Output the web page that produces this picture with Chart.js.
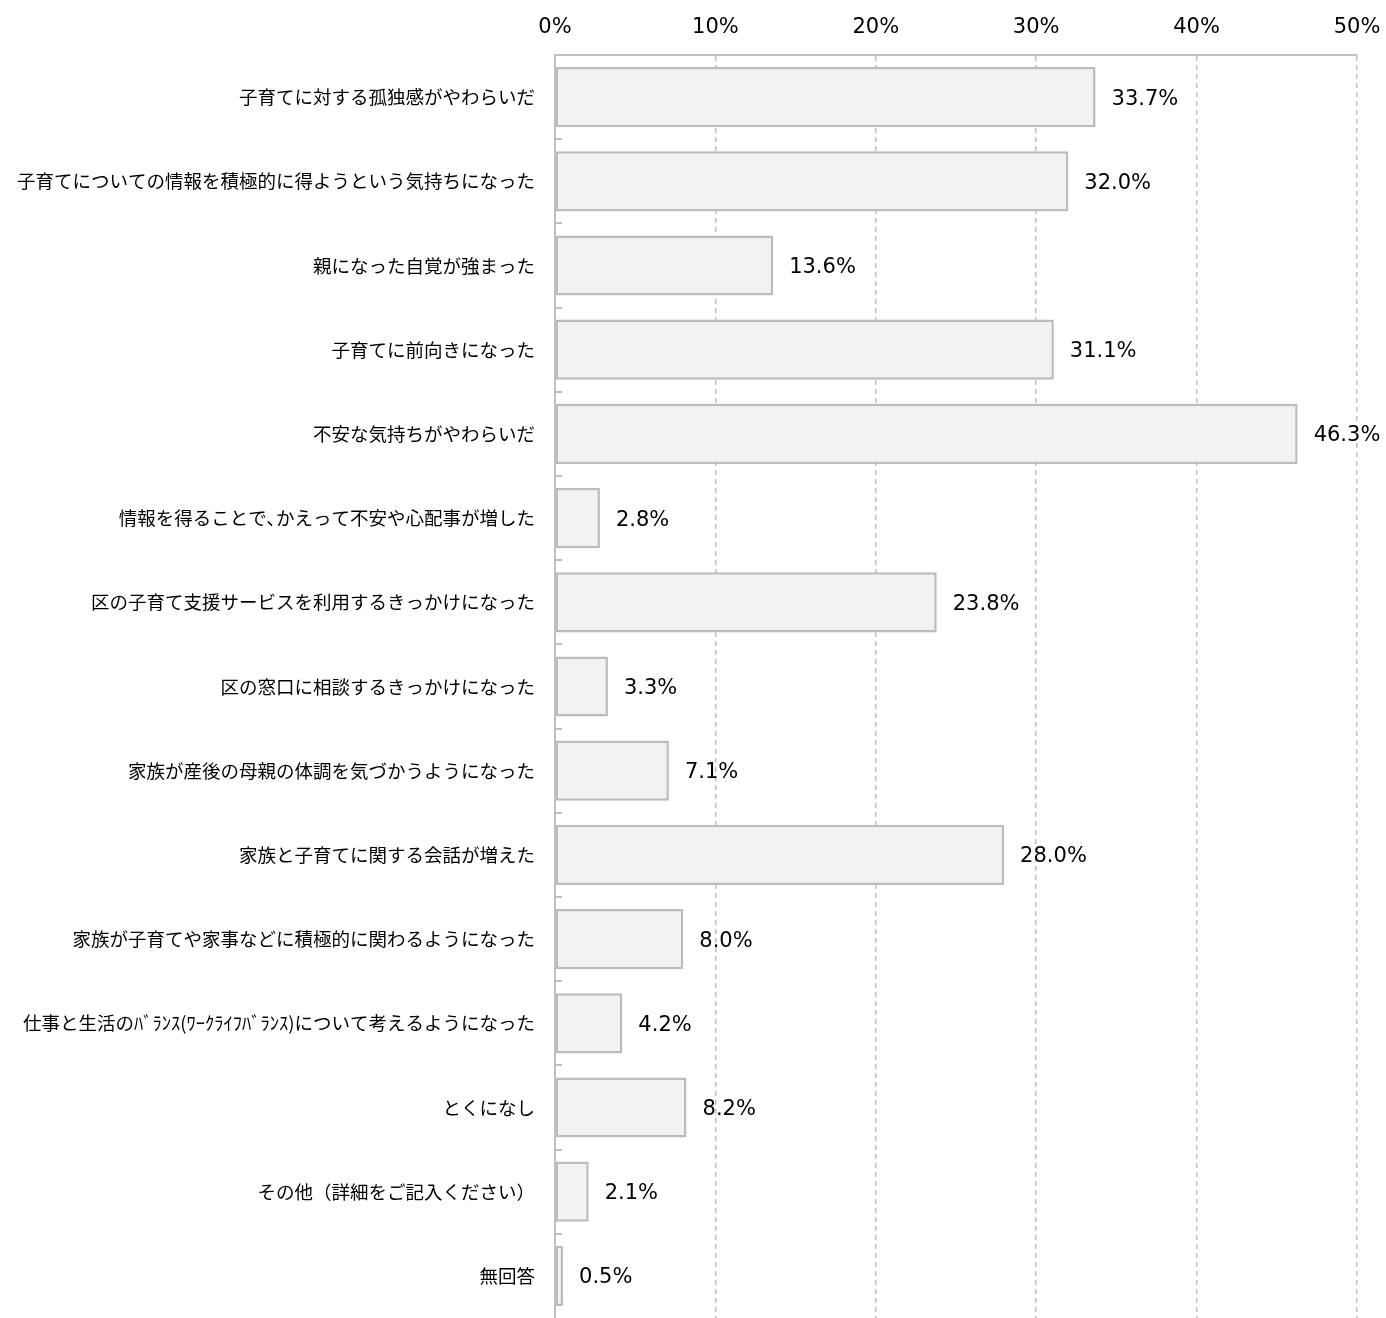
<!DOCTYPE html>
<html>
<head>
<meta charset="utf-8">
<script src="https://cdn.jsdelivr.net/npm/chart.js@4/dist/chart.umd.min.js"></script>
<style>
  body { margin: 0; background: #fff; }
  canvas { display: block; }
</style>
</head>
<body>
<canvas id="chart" width="1386" height="1318"></canvas>
<script>
// categories (top to bottom)
const categories = [
    '子育てに対する孤独感がやわらいだ',
    '子育てについての情報を積極的に得ようという気持ちになった',
    '親になった自覚が強まった',
    '子育てに前向きになった',
    '不安な気持ちがやわらいだ',
    '情報を得ることで､かえって不安や心配事が増した',
    '区の子育て支援サービスを利用するきっかけになった',
    '区の窓口に相談するきっかけになった',
    '家族が産後の母親の体調を気づかうようになった',
    '家族と子育てに関する会話が増えた',
    '家族が子育てや家事などに積極的に関わるようになった',
    '仕事と生活のﾊﾞﾗﾝｽ(ﾜｰｸﾗｲﾌﾊﾞﾗﾝｽ)について考えるようになった',
    'とくになし',
    'その他（詳細をご記入ください）',
    '無回答'
];
const values = [33.7, 32.0, 13.6, 31.1, 46.3, 2.8, 23.8, 3.3, 7.1, 28.0, 8.0, 4.2, 8.2, 2.1, 0.5];
const axisMax = 50;
const axisStep = 10;

// value labels to the right of each bar
const valueLabels = {
    id: 'valueLabels',
    afterDatasetsDraw(chart) {
        const ctx = chart.ctx;
        const meta = chart.getDatasetMeta(0);
        ctx.save();
        ctx.font = '21px "DejaVu Sans"';
        ctx.fillStyle = '#000';
        ctx.textAlign = 'left';
        ctx.textBaseline = 'middle';
        meta.data.forEach((bar, i) => {
            ctx.fillText(values[i].toFixed(1) + '%', bar.x + 16, bar.y + 2);
        });
        ctx.restore();
    }
};

// short tick marks between categories on the left axis
const catTicks = {
    id: 'catTicks',
    afterDraw(chart) {
        const ctx = chart.ctx;
        const y = chart.scales.y;
        const left = chart.chartArea.left;
        ctx.save();
        ctx.strokeStyle = '#c0c0c0';
        ctx.lineWidth = 2;
        for (let i = 1; i < categories.length; i++) {
            const p = Math.round(y.getPixelForValue(i - 0.5));
            ctx.beginPath();
            ctx.moveTo(left, p);
            ctx.lineTo(left + 7, p);
            ctx.stroke();
        }
        ctx.restore();
    }
};

new Chart(document.getElementById('chart'), {
    type: 'bar',
    data: {
        labels: categories,
        datasets: [{
            data: values,
            backgroundColor: '#f2f2f2',
            borderColor: '#bcbcbc',
            borderWidth: 2.5,
            borderSkipped: false,
            categoryPercentage: 1,
            barPercentage: 0.715
        }]
    },
    options: {
        indexAxis: 'y',
        responsive: false,
        animation: false,
        layout: { padding: { left: 0, right: 29, top: 0, bottom: 0 } },
        plugins: {
            legend: { display: false },
            tooltip: { enabled: false }
        },
        scales: {
            x: {
                position: 'top',
                min: 0,
                max: axisMax,
                afterFit(scale) {
                    scale.height = 55;
                    scale.paddingLeft = 0;
                    scale.paddingRight = 0;
                },
                ticks: {
                    stepSize: axisStep,
                    padding: 15,
                    color: '#000',
                    font: { family: '"DejaVu Sans"', size: 21 },
                    callback: v => v + '%'
                },
                grid: {
                    color: '#c0c0c0',
                    lineWidth: 1.5,
                    drawTicks: false
                },
                border: {
                    color: '#c0c0c0',
                    width: 2,
                    dash: [5, 4]
                }
            },
            y: {
                afterFit(scale) {
                    scale.width = 555;
                    scale.paddingTop = 0;
                    scale.paddingBottom = 0;
                },
                ticks: {
                    padding: 20,
                    color: '#000',
                    font: { family: '"Noto Sans CJK JP"', size: 18.5 }
                },
                grid: { display: false, drawTicks: false },
                border: { color: '#c0c0c0', width: 2 }
            }
        }
    },
    plugins: [valueLabels, catTicks]
});
</script>
</body>
</html>
